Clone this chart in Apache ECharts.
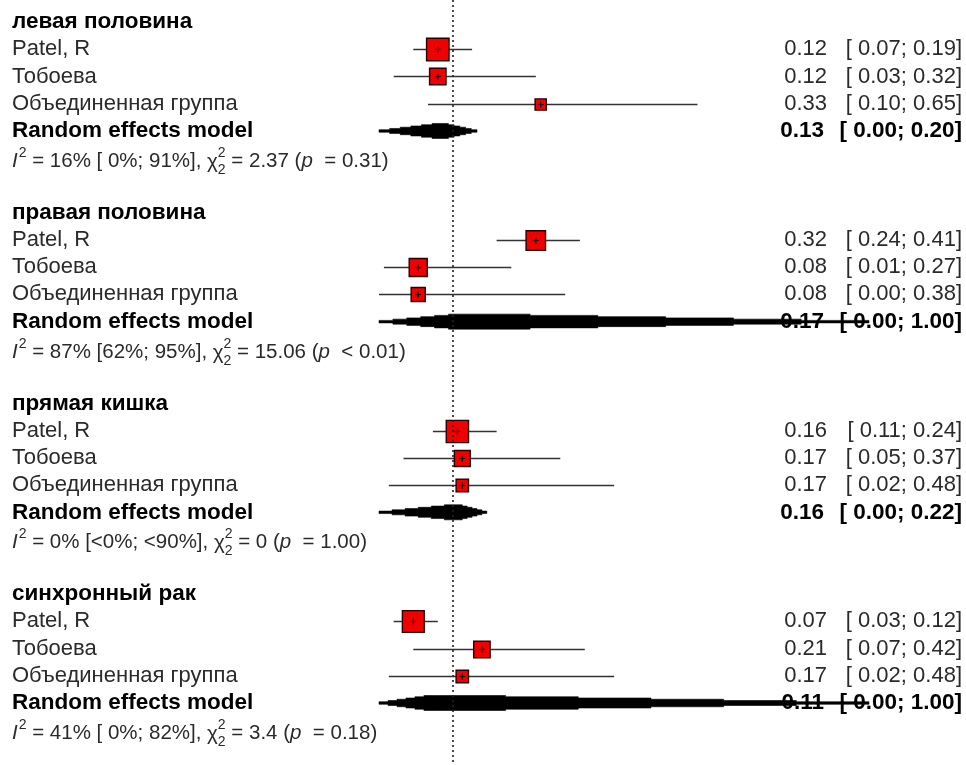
<!DOCTYPE html>
<html>
<head>
<meta charset="utf-8">
<script src="https://cdn.jsdelivr.net/npm/echarts@6/dist/echarts.min.js"></script>
<style>
  html, body { margin: 0; padding: 0; background: #ffffff; }
  #chart { width: 966px; height: 765px; }
</style>
</head>
<body>
<div id="chart"></div>
<script>
// ---- data -------------------------------------------------------------
const groupNames = ['левая половина', 'правая половина', 'прямая кишка', 'синхронный рак'];
const studyNames = ['Patel, R', 'Тобоева', 'Объединенная группа'];

// proportions per subgroup (rows follow studyNames)
const studyEst    = [[0.12, 0.12, 0.33], [0.32, 0.08, 0.08], [0.16, 0.17, 0.17], [0.07, 0.21, 0.17]];
const studyLower  = [[0.07, 0.03, 0.10], [0.24, 0.01, 0.00], [0.11, 0.05, 0.02], [0.03, 0.07, 0.02]];
const studyUpper  = [[0.19, 0.32, 0.65], [0.41, 0.27, 0.38], [0.24, 0.37, 0.48], [0.12, 0.42, 0.48]];
const studyWeight = [[56, 30, 14], [42, 36, 22], [55, 28, 17], [53, 30, 17]];   // %

const pooledLabel = 'Random effects model';
const pooledEst   = [0.13, 0.17, 0.16, 0.11];
const pooledLower = [0.00, 0.00, 0.00, 0.00];
const pooledUpper = [0.20, 1.00, 0.22, 1.00];

// heterogeneity statistics per subgroup
const i2Value    = ['16%', '87%', '0%', '41%'];
const i2Interval = ['[ 0%; 91%]', '[62%; 95%]', '[<0%; <90%]', '[ 0%; 82%]'];
const chi2Value  = ['2.37', '15.06', '0', '3.4'];
const chi2Df     = ['2', '2', '2', '2'];
const pText      = ['= 0.31', '< 0.01', '= 1.00', '= 0.18'];

const refValue = 0.15;   // dotted reference line

// ---- layout -----------------------------------------------------------
const W = 966, H = 765;
const ORIGIN_PX = 379;      // pixel of proportion 0
const UNIT_PX = 490;        // pixels per proportion 1
const ROW0_PX = 22;         // centre of first row
const ROW_PX = 27.24;       // row pitch
const ROWS_PER_GROUP = 7;   // header, 3 studies, pooled, heterogeneity, gap

const FAM = '"Liberation Sans", Arial, Helvetica, sans-serif';
const FS = 22;
const BOLD_FS = 22.5;
const STAT_FS = 20.5;
const TEXT_COL = '#2a2a2a';
const LEFT_X = 12;
const EST_RIGHT = 827;
const CI_RIGHT = 962;

const fmt = v => v.toFixed(2);
const padNum = s => (s.length < 5 ? ' ' + s : s);
const ciText = (lo, hi) => '[' + padNum(fmt(lo)) + ';' + padNum(fmt(hi)) + ']';

// build series data from the arrays
const studyData = [];
const pooledData = [];
const rowText = [];   // {row, kind, g, s}
groupNames.forEach((name, g) => {
  const base = g * ROWS_PER_GROUP;
  rowText.push({ row: base, kind: 'header', g });
  studyNames.forEach((sn, s) => {
    studyData.push([studyEst[g][s], base + 1 + s, studyLower[g][s], studyUpper[g][s], studyWeight[g][s]]);
    rowText.push({ row: base + 1 + s, kind: 'study', g, s });
  });
  pooledData.push([pooledEst[g], base + 4, pooledLower[g], pooledUpper[g]]);
  rowText.push({ row: base + 4, kind: 'pooled', g });
  rowText.push({ row: base + 5, kind: 'stat', g });
});

// text measuring for the heterogeneity line
const mctx = document.createElement('canvas').getContext('2d');
function textWidth(str, font) { mctx.font = font; return mctx.measureText(str).width; }

function txt(x, y, str, opts) {
  opts = opts || {};
  return {
    type: 'text',
    style: {
      x: x, y: y, text: str,
      fill: opts.fill || TEXT_COL,
      font: opts.font || (FS + 'px ' + FAM),
      align: opts.align || 'left',
      verticalAlign: 'middle'
    }
  };
}

function statLine(g, y) {
  const base = STAT_FS + 'px ' + FAM;
  const ital = 'italic ' + STAT_FS + 'px ' + FAM;
  const small = Math.round(STAT_FS * 0.7) + 'px ' + FAM;
  const parts = [];
  let x = LEFT_X;
  parts.push(txt(x, y, 'I', { font: ital }));
  x += textWidth('I', ital) + 1;
  parts.push(txt(x, y - 8, '2', { font: small }));
  x += textWidth('2', small);
  let s = ' = ' + i2Value[g] + ' ' + i2Interval[g] + ', ';
  parts.push(txt(x, y, s, { font: base }));
  x += textWidth(s, base);
  parts.push(txt(x, y + 1, 'χ', { font: base }));
  x += textWidth('χ', base);
  parts.push(txt(x, y - 8, '2', { font: small }));
  parts.push(txt(x, y + 9, chi2Df[g], { font: small }));
  x += textWidth('2', small);
  s = ' = ' + chi2Value[g] + ' (';
  parts.push(txt(x, y, s, { font: base }));
  x += textWidth(s, base);
  parts.push(txt(x, y, 'p', { font: ital }));
  x += textWidth('p', ital);
  s = '  ' + pText[g] + ')';
  parts.push(txt(x, y, s, { font: base }));
  return parts;
}

function renderText(params, api) {
  const item = rowText[params.dataIndex];
  const y = api.coord([0, api.value(1)])[1];
  const g = item.g;
  const bold = 'bold ' + BOLD_FS + 'px ' + FAM;
  const reg = FS + 'px ' + FAM;
  let children = [];
  if (item.kind === 'header') {
    children.push(txt(LEFT_X, y, groupNames[g], { font: bold, fill: '#000' }));
  } else if (item.kind === 'study') {
    const s = item.s;
    children.push(txt(LEFT_X, y, studyNames[s], { font: reg }));
    children.push(txt(EST_RIGHT, y, fmt(studyEst[g][s]), { font: reg, align: 'right' }));
    children.push(txt(CI_RIGHT, y, ciText(studyLower[g][s], studyUpper[g][s]), { font: reg, align: 'right' }));
  } else if (item.kind === 'pooled') {
    children.push(txt(LEFT_X, y, pooledLabel, { font: bold, fill: '#000' }));
    children.push(txt(EST_RIGHT - 3, y, fmt(pooledEst[g]), { font: bold, fill: '#000', align: 'right' }));
    children.push(txt(CI_RIGHT, y, ciText(pooledLower[g], pooledUpper[g]), { font: bold, fill: '#000', align: 'right' }));
  } else {
    children = statLine(g, y + 3);
  }
  return { type: 'group', children: children };
}

function renderStudy(params, api) {
  const row = api.value(1);
  const c = api.coord([api.value(0), row]);
  const pl = api.coord([api.value(2), row]);
  const ph = api.coord([api.value(3), row]);
  const side = 3.0 * Math.sqrt(api.value(4));
  const y = Math.round(c[1]) + 0.5;
  return {
    type: 'group',
    children: [
      { type: 'line', shape: { x1: pl[0], y1: y, x2: ph[0], y2: y }, style: { stroke: '#333333', lineWidth: 1.6 } },
      { type: 'rect', shape: { x: c[0] - side / 2, y: y - side / 2, width: side, height: side },
        style: { fill: '#f00000', stroke: '#2a0000', lineWidth: 1.4 } },
      { type: 'line', shape: { x1: c[0] - 3, y1: y, x2: c[0] + 3, y2: y }, style: { stroke: '#1a0000', lineWidth: 1.2 } },
      { type: 'line', shape: { x1: c[0], y1: y - 3, x2: c[0], y2: y + 3 }, style: { stroke: '#1a0000', lineWidth: 1.2 } }
    ]
  };
}

// pooled estimate: diamond drawn with stepped edges
function renderPooled(params, api) {
  const row = api.value(1);
  const c = api.coord([api.value(0), row]);
  const xl = api.coord([api.value(2), row])[0];
  const xr = api.coord([api.value(3), row])[0];
  const xc = c[0], y = c[1];
  const h = 7.5, n = 6;
  const top = [];
  for (let k = 0; k < n; k++) {
    const hh = Math.max(1.1, h * (k + 1) / n);
    top.push([xl + (xc - xl) * k / n, y - hh], [xl + (xc - xl) * (k + 1) / n, y - hh]);
  }
  for (let k = n - 1; k >= 0; k--) {
    const hh = Math.max(1.1, h * (k + 1) / n);
    top.push([xr - (xr - xc) * (k + 1) / n, y - hh], [xr - (xr - xc) * k / n, y - hh]);
  }
  const bottom = top.slice().reverse().map(p => [p[0], 2 * y - p[1]]);
  return {
    type: 'polygon',
    shape: { points: top.concat(bottom) },
    style: { fill: '#000000', stroke: '#000000', lineWidth: 0.6 }
  };
}

const chart = echarts.init(document.getElementById('chart'), null, { renderer: 'canvas' });
chart.setOption({
  animation: false,
  backgroundColor: '#ffffff',
  grid: { left: 0, right: 0, top: 0, bottom: 0 },
  xAxis: { type: 'value', min: -ORIGIN_PX / UNIT_PX, max: (W - ORIGIN_PX) / UNIT_PX, show: false },
  yAxis: { type: 'value', inverse: true, min: -ROW0_PX / ROW_PX, max: (H - ROW0_PX) / ROW_PX, show: false },
  series: [
    {
      type: 'custom', name: 'studies', clip: false,
      data: studyData, encode: { x: 0, y: 1 },
      renderItem: renderStudy,
      markLine: {
        silent: true, symbol: 'none', animation: false,
        label: { show: false },
        lineStyle: { type: [2, 3], color: '#222222', width: 1.6 },
        data: [{ xAxis: refValue }]
      },
      z: 3
    },
    {
      type: 'custom', name: 'pooled', clip: false,
      data: pooledData, encode: { x: 0, y: 1 },
      renderItem: renderPooled, z: 2
    },
    {
      type: 'custom', name: 'text', clip: false,
      data: rowText.map(r => [0, r.row]), encode: { x: 0, y: 1 },
      renderItem: renderText, z: 4
    }
  ]
});
</script>
</body>
</html>
